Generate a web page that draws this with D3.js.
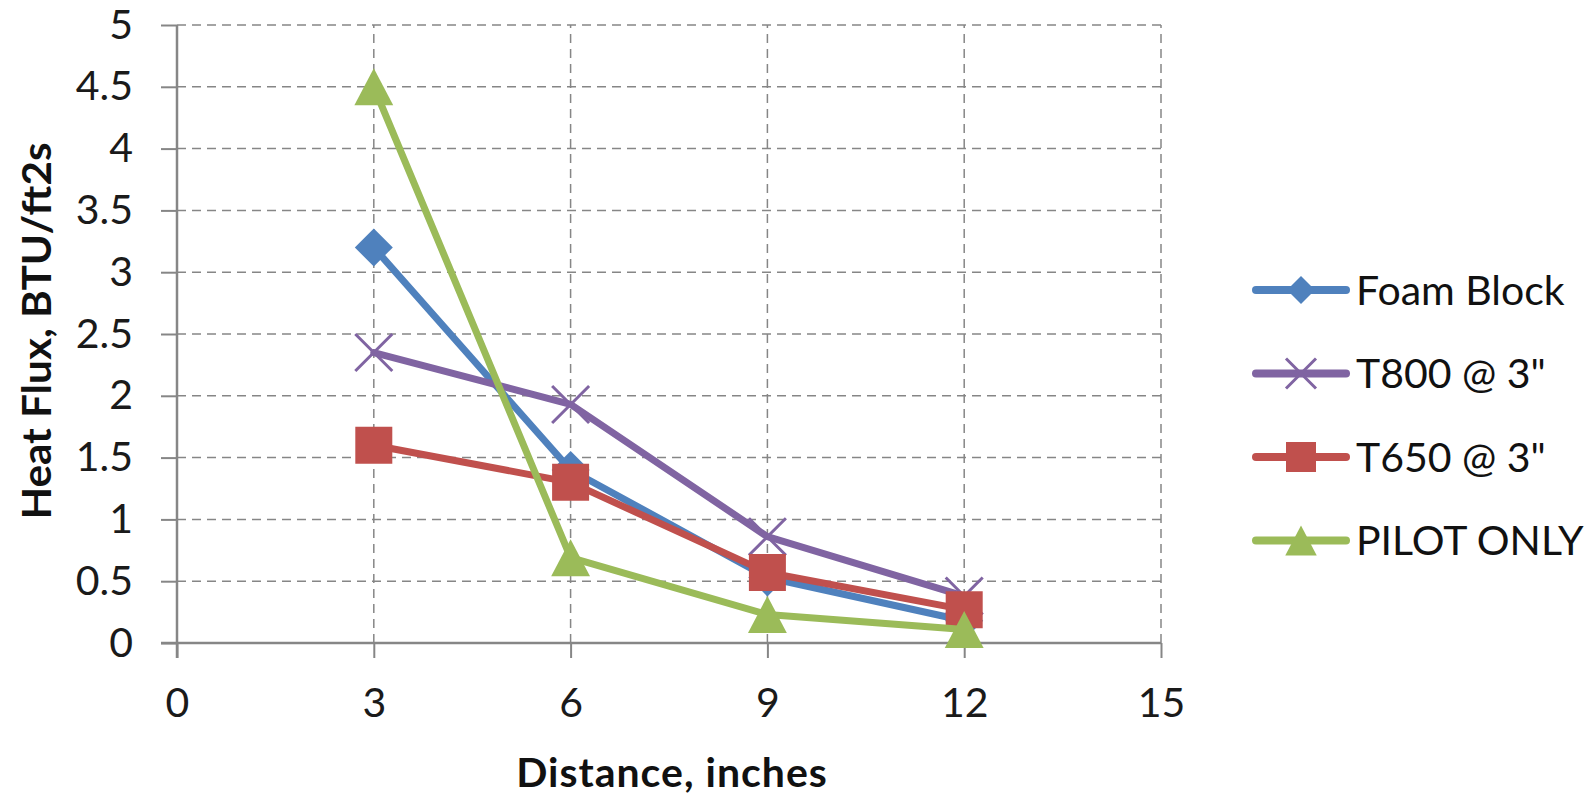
<!DOCTYPE html>
<html>
<head>
<meta charset="utf-8">
<script src="https://cdn.jsdelivr.net/npm/d3@7"></script>
<style>
  body { margin: 0; background: #fff; }
  svg { display: block; }
</style>
</head>
<body>
<div id="chart"></div>
<script>
// data
var distances = [3, 6, 9, 12];
var seriesNames = ["Foam Block", "T800 @ 3\"", "T650 @ 3\"", "PILOT ONLY"];
var foamBlock = [3.2, 1.4, 0.53, 0.18];
var t800 = [2.35, 1.93, 0.86, 0.38];
var t650 = [1.6, 1.3, 0.57, 0.27];
var pilotOnly = [4.5, 0.69, 0.23, 0.11];
var xTicks = [0, 3, 6, 9, 12, 15];
var yTicks = [0, 0.5, 1, 1.5, 2, 2.5, 3, 3.5, 4, 4.5, 5];

var colors = ["#4F81BD", "#8064A2", "#C0504D", "#9BBB59"];
var markers = ["diamond", "x", "square", "triangle"];
var allValues = [foamBlock, t800, t650, pilotOnly];

var width = 1595, height = 796;
var svg = d3.select("#chart").append("svg")
    .attr("width", width)
    .attr("height", height);

//scales
var x = d3.scaleLinear().domain([0, 15]).range([177, 1161]);
var y = d3.scaleLinear().domain([0, 5]).range([643, 25]);

var gridColor = "#868686";
var font = "Lato, 'Liberation Sans', sans-serif";

//horizontal grid lines
svg.selectAll(".hgrid")
    .data(yTicks.filter(function (d) { return d > 0; }))
    .enter().append("line")
    .attr("x1", x(0)).attr("x2", x(15))
    .attr("y1", function (d) { return y(d); })
    .attr("y2", function (d) { return y(d); })
    .attr("stroke", gridColor).attr("stroke-width", 1.5)
    .attr("stroke-dasharray", "9,6");

//vertical grid lines
svg.selectAll(".vgrid")
    .data(xTicks.filter(function (d) { return d > 0; }))
    .enter().append("line")
    .attr("y1", y(0)).attr("y2", y(5))
    .attr("x1", function (d) { return x(d); })
    .attr("x2", function (d) { return x(d); })
    .attr("stroke", gridColor).attr("stroke-width", 1.5)
    .attr("stroke-dasharray", "9,6");

//axes
var xAxis = d3.axisBottom(x).tickValues(xTicks).tickSize(15).tickPadding(31);
var yAxis = d3.axisLeft(y).tickValues(yTicks).tickSize(16).tickPadding(28)
    .tickFormat(function (d) { return d3.format("")(d); });

var gx = svg.append("g").attr("transform", "translate(0," + y(0) + ")").call(xAxis);
var gy = svg.append("g").attr("transform", "translate(" + x(0) + ",0)").call(yAxis);

[gx, gy].forEach(function (g) {
    g.select(".domain").attr("stroke", gridColor).attr("stroke-width", 2.5);
    g.selectAll(".tick line").attr("stroke", gridColor).attr("stroke-width", 2);
    g.selectAll(".tick text")
        .attr("font-family", font)
        .attr("font-size", "41px")
        .attr("fill", "#1a1a1a");
});
gx.selectAll(".tick text").attr("dy", null).attr("y", 74);
gx.select(".domain").attr("d", "M" + (x(0) - 16) + ",0H" + x(15));
gy.select(".domain").attr("d", "M0," + y(5) + "V" + (y(0) + 15));

//axis titles
svg.append("text")
    .attr("x", 672).attr("y", 787)
    .attr("text-anchor", "middle")
    .attr("font-family", font).attr("font-weight", "bold")
    .attr("font-size", "41px").attr("fill", "#111")
    .attr("letter-spacing", "1px")
    .text("Distance, inches");

svg.append("text")
    .attr("transform", "translate(51,331) rotate(-90)")
    .attr("text-anchor", "middle")
    .attr("font-family", font).attr("font-weight", "bold")
    .attr("font-size", "41px").attr("fill", "#111")
    .attr("textLength", 377)
    .attr("lengthAdjust", "spacingAndGlyphs")
    .text("Heat Flux, BTU/ft2s");

//marker shapes
function markerPath(type, s) {
    if (type === "diamond") return "M0," + (-s) + "L" + s + ",0L0," + s + "L" + (-s) + ",0Z";
    if (type === "square") return "M" + (-s) + "," + (-s) + "H" + s + "V" + s + "H" + (-s) + "Z";
    if (type === "triangle") return "M0," + (-s) + "L" + (s * 1.05) + "," + s + "H" + (-s * 1.05) + "Z";
    return "M" + (-s) + "," + (-s) + "L" + s + "," + s + "M" + (-s) + "," + s + "L" + s + "," + (-s);
}
function drawMarker(g, type, color, s) {
    var p = g.append("path").attr("d", markerPath(type, s));
    if (type === "x") p.attr("fill", "none").attr("stroke", color).attr("stroke-width", 3);
    else p.attr("fill", color);
}

var line = d3.line()
    .x(function (d) { return x(d[0]); })
    .y(function (d) { return y(d[1]); });

allValues.forEach(function (vals, i) {
    var pts = distances.map(function (d, j) { return [d, vals[j]]; });
    var g = svg.append("g");
    g.append("path")
        .attr("d", line(pts))
        .attr("fill", "none")
        .attr("stroke", colors[i])
        .attr("stroke-width", 7)
        .attr("stroke-linejoin", "round")
        .attr("stroke-linecap", "round");
    pts.forEach(function (p) {
        var mg = g.append("g").attr("transform", "translate(" + x(p[0]) + "," + y(p[1]) + ")");
        drawMarker(mg, markers[i], colors[i], markers[i] === "diamond" ? 19 : 18.5);
    });
});

//legend
var legend = svg.append("g");
seriesNames.forEach(function (name, i) {
    var ly = 290 + i * 83.5;
    legend.append("line")
        .attr("x1", 1256).attr("x2", 1346)
        .attr("y1", ly).attr("y2", ly)
        .attr("stroke", colors[i]).attr("stroke-width", 8)
        .attr("stroke-linecap", "round");
    var mg = legend.append("g").attr("transform", "translate(1301," + ly + ")");
    drawMarker(mg, markers[i], colors[i], markers[i] === "diamond" ? 14 : 15);
    legend.append("text")
        .attr("x", 1356).attr("y", ly)
        .attr("dy", "0.36em")
        .attr("font-family", font)
        .attr("font-size", "41px")
        .attr("fill", "#111")
        .text(name);
});
</script>
</body>
</html>
